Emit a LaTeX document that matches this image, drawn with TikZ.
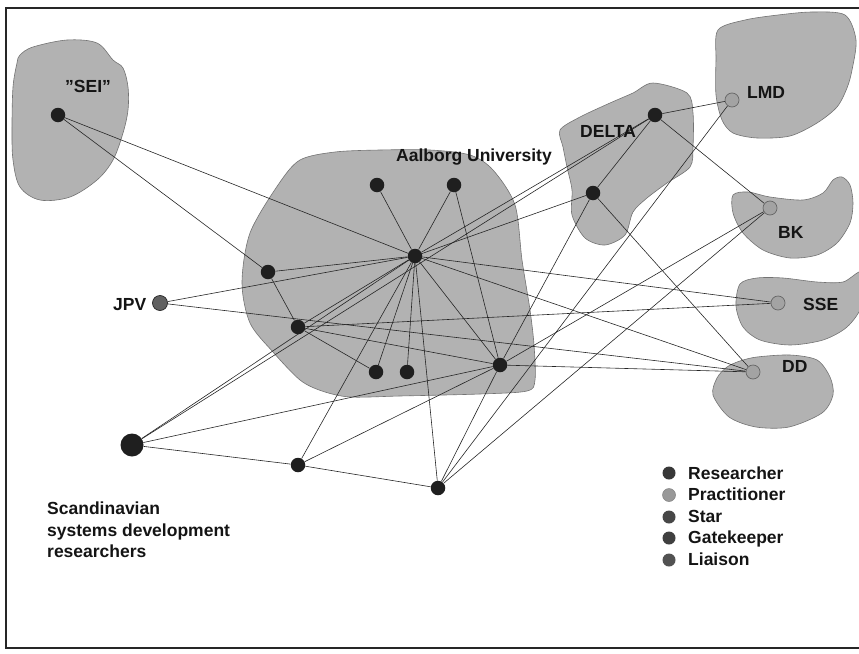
\documentclass[tikz,border=0pt]{standalone}
\usepackage{fontspec}
\setmainfont{Liberation Sans}
\usetikzlibrary{backgrounds}
\begin{document}
\begin{tikzpicture}[x=1pt,y=-1pt,
  lab/.style={font=\bfseries\fontsize{17.5}{21.7}\selectfont, inner sep=0pt, text=black!92},
  res/.style={circle, fill=black!88, inner sep=0pt, minimum size=14.5pt},
  prac/.style={circle, fill=black!36, draw=black!60, line width=0.7pt, inner sep=0pt, minimum size=14pt},
  blob/.style={fill=black!30, draw=black!55, line width=0.6pt},
  link/.style={draw=black!85, line width=0.6pt},
  legdot/.style={circle, inner sep=0pt, minimum size=13pt},
  frame/.style={line width=1.5pt, draw=black!85}]

\useasboundingbox (0,0) rectangle (859,653);

% researchers
\node[res] (S)  at (58,115) {};
\node[res] (A1) at (377,185) {};
\node[res] (A2) at (454,185) {};
\node[res] (C)  at (415,256) {};
\node[res] (A3) at (268,272) {};
\node[res] (A4) at (298,327) {};
\node[res] (A5) at (376,372) {};
\node[res] (A6) at (407,372) {};
\node[res] (A7) at (500,365) {};
\node[res] (D1) at (655,115) {};
\node[res] (D2) at (593,193) {};
\node[res, minimum size=23pt] (G) at (132,445) {};
\node[res] (M)  at (298,465) {};
\node[res] (N)  at (438,488) {};
% practitioners
\node[prac] (L)  at (732,100) {};
\node[prac] (B)  at (770,208) {};
\node[prac] (E)  at (778,303) {};
\node[prac] (DD) at (753,372) {};
\node[prac, fill=black!62, draw=black!85, minimum size=15pt] (J) at (160,303) {};

% labels
\node[lab, anchor=base west] (tSEI) at (65,92) {”SEI”};
\node[lab, anchor=base west] (tAU) at (396,161) {Aalborg University};
\node[lab, anchor=base west] (tDE) at (580,137) {DELTA};
\node[lab, anchor=base west] (tLMD) at (747,98) {LMD};
\node[lab, anchor=base west] (tBK) at (778,238) {BK};
\node[lab, anchor=base west] (tSSE) at (803,310) {SSE};
\node[lab, anchor=base west] (tDD) at (782,372) {DD};
\node[lab, anchor=base west] (tJPV) at (113,310) {JPV};
\node[lab, anchor=north west, align=left] (tSc) at (47,501.5) {Scandinavian\\systems development\\researchers};

% legend
\node[legdot, fill=black!78] (l1) at (669,473) {};
\node[legdot, fill=black!40, draw=black!50, line width=0.5pt] (l2) at (669,495) {};
\node[legdot, fill=black!72] (l3) at (669,517) {};
\node[legdot, fill=black!75] (l4) at (669,538) {};
\node[legdot, fill=black!68] (l5) at (669,560) {};
\node[lab, anchor=base west] (t1) at (688,479.3) {Researcher};
\node[lab, anchor=base west] (t2) at (688,500.8) {Practitioner};
\node[lab, anchor=base west] (t3) at (688,522.3) {Star};
\node[lab, anchor=base west] (t4) at (688,543.8) {Gatekeeper};
\node[lab, anchor=base west] (t5) at (688,565.3) {Liaison};

\begin{pgfonlayer}{background}
\begin{scope}
\clip (0,0) rectangle (859,653);
% SEI
\draw[blob] plot[smooth cycle, tension=0.55] coordinates {(20,55) (33,47) (67,40) (97,43) (113,60) (123,68) (128,87) (128,110) (123,133) (113,160) (97,180) (70,197) (40,200) (20,187) (13,160) (12,127) (13,87) (17,63)};
% Aalborg
\draw[blob] plot[smooth cycle, tension=0.5] coordinates {(300,160) (335,152) (380,150) (430,150) (470,155) (493,170) (515,205) (522,260) (530,310) (534,345) (535,380) (527,391) (480,394) (400,396) (350,397) (322,391) (300,380) (273,352) (250,323) (242,283) (250,233) (278,185)};
% DELTA
\draw[blob] plot[smooth cycle, tension=0.5] coordinates {(560,130) (580,117) (610,103) (633,93) (653,83) (687,93) (693,113) (693,147) (690,167) (667,183) (647,198) (633,212) (625,235) (605,245) (585,238) (572,215) (572,190) (567,167) (563,147)};
% LMD
\draw[blob] plot[smooth cycle, tension=0.5] coordinates {(718,30) (745,20) (778,15) (812,12) (845,15) (856,40) (852,70) (847,88) (837,107) (817,123) (790,136) (757,138) (733,133) (722,120) (716,95) (716,60)};
% BK
\draw[blob] plot[smooth cycle, tension=0.5] coordinates {(733,195) (748,192) (770,197) (803,200) (823,193) (833,180) (842,177) (850,185) (853,203) (850,223) (837,243) (817,255) (790,258) (763,250) (743,233) (733,213)};
% SSE
\draw[blob] plot[smooth cycle, tension=0.5] coordinates {(740,284) (757,278) (783,278) (817,282) (843,282) (862,272) (862,305) (847,327) (823,340) (790,345) (760,340) (743,327) (736,306)};
% DD
\draw[blob] plot[smooth cycle, tension=0.5] coordinates {(727,367) (740,361) (757,357) (790,355) (817,360) (830,377) (833,395) (822,413) (789,427) (756,427) (729,417) (713,395) (717,378)};
\end{scope}

% connectors
\path[link] (S) -- (C);
\path[link] (S) -- (A3);
\path[link] (A1) -- (C);
\path[link] (A2) -- (C);
\path[link] (A2) -- (A7);
\path[link] (A3) -- (A4);
\path[link] (A3) -- (C);
\path[link] (A4) -- (C);
\path[link] (A4) -- (A5);
\path[link] (A4) -- (A7);
\path[link] (A4) -- (E);
\path[link] (C) -- (A5);
\path[link] (C) -- (A6);
\path[link] (C) -- (A7);
\path[link] (C) -- (D1);
\path[link] (C) -- (D2);
\path[link] (C) -- (E);
\path[link] (C) -- (DD);
\path[link] (C) -- (M);
\path[link] (C) -- (N);
\path[link] (J) -- (C);
\path[link] (J) -- (DD);
\path[link] (D1) -- (L);
\path[link] (D1) -- (B);
\path[link] (D1) -- (D2);
\path[link] (D2) -- (A7);
\path[link] (D2) -- (DD);
\path[link] (L) -- (N);
\path[link] (B) -- (A7);
\path[link] (B) -- (N);
\path[link] (A7) -- (DD);
\path[link] (A7) -- (N);
\path[link] (A7) -- (M);
\path[link] (A7) -- (G);
\path[link] (G) -- (C);
\path[link] (G) -- (D1);
\path[link] (G) -- (M);
\path[link] (M) -- (N);
\end{pgfonlayer}

\draw[frame] (859,8) -- (6,8) -- (6,648) -- (859,648);
\end{tikzpicture}
\end{document}
